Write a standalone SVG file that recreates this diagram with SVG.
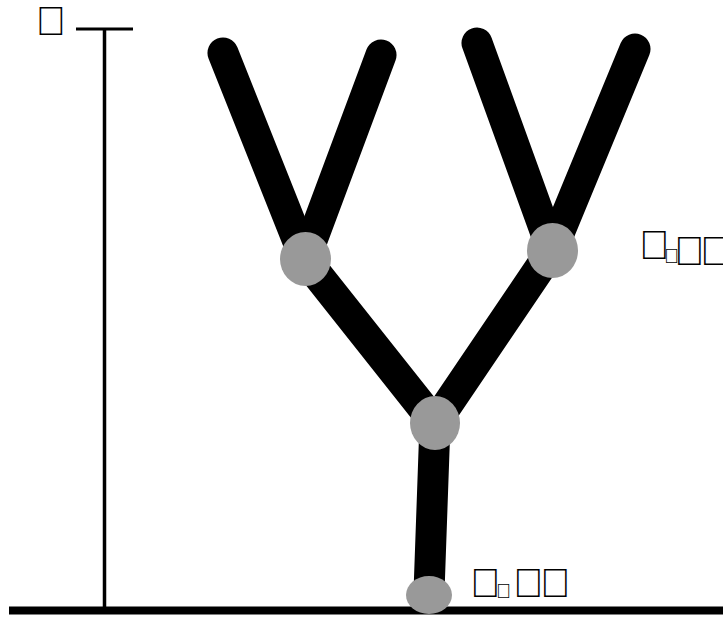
<svg xmlns="http://www.w3.org/2000/svg" width="723" height="618" viewBox="0 0 723 618">
<style>
.br{stroke:#000;stroke-width:31;stroke-linecap:round;fill:none}
.nd{fill:#999999}
.ax{stroke:#000;fill:none}
.lb{font-family:"Liberation Sans",sans-serif;font-size:41px;fill:#000}
.sb{font-size:20.5px}
</style>
<rect width="723" height="618" fill="#fff"/>
<g id="connectors">
<line class="ax" x1="104.5" y1="29" x2="104.5" y2="610" stroke-width="3.5"/>
<line class="ax" x1="76" y1="29" x2="133" y2="29" stroke-width="3"/>
<line class="ax" x1="9" y1="610.5" x2="723" y2="610.5" stroke-width="8"/>
<line class="br" x1="429" y1="592" x2="435" y2="423"/>
<line class="br" x1="435" y1="423" x2="305" y2="259"/>
<line class="br" x1="435" y1="423" x2="552" y2="250"/>
<line class="br" x1="305" y1="259" x2="223" y2="53"/>
<line class="br" x1="305" y1="259" x2="381" y2="55"/>
<line class="br" x1="552" y1="250" x2="477" y2="43"/>
<line class="br" x1="552" y1="250" x2="635" y2="49"/>
</g>
<g id="node-root"><ellipse class="nd" cx="429" cy="595" rx="23" ry="19"/></g>
<g id="node-mid"><ellipse class="nd" cx="435" cy="423" rx="25" ry="27"/></g>
<g id="node-left"><ellipse class="nd" cx="305.5" cy="259" rx="25.5" ry="27"/></g>
<g id="node-right"><ellipse class="nd" cx="552.5" cy="250.5" rx="25.5" ry="27.5"/></g>
<g id="label-axis"><text class="lb" x="35.5" y="35">&#x10FFFD;</text></g>
<g id="label-right"><text class="lb"><tspan x="639" y="259">&#x10FFFD;</tspan><tspan class="sb" x="664" y="263">&#x10FFFD;</tspan><tspan x="674" y="265">&#x10FFFD;</tspan><tspan x="700" y="265">&#x10FFFD;</tspan></text></g>
<g id="label-root"><text class="lb"><tspan x="470" y="597">&#x10FFFD;</tspan><tspan class="sb" x="496" y="598">&#x10FFFD;</tspan><tspan x="513" y="597">&#x10FFFD;</tspan><tspan x="540" y="597">&#x10FFFD;</tspan></text></g>
</svg>
